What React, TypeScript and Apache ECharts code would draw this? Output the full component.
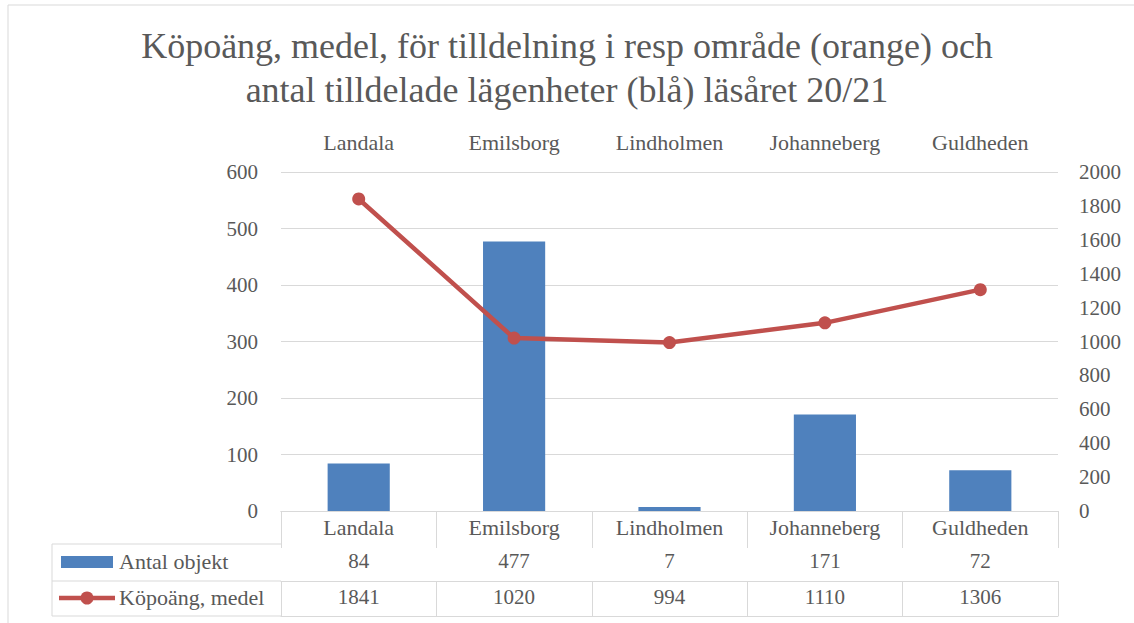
import React, { useEffect, useRef } from "react";
import * as echarts from "echarts";

const titleText = "Köpoäng, medel, för tilldelning i resp område (orange) och\nantal tilldelade lägenheter (blå) läsåret 20/21";
const categories = ["Landala", "Emilsborg", "Lindholmen", "Johanneberg", "Guldheden"];
const antalObjekt = [84, 477, 7, 171, 72];
const kopoangMedel = [1841, 1020, 994, 1110, 1306];
const seriesNames = ["Antal objekt", "Köpoäng, medel"];

const FONT = "'Liberation Serif', 'Times New Roman', serif";
const TEXT = "#595959";
const LINE = "#d9d9d9";
const BLUE = "#4F81BD";
const RED = "#C0504D";

export default function App() {
  const ref = useRef<HTMLDivElement>(null);
  useEffect(() => {
    const chart = echarts.init(ref.current!, null, { renderer: "svg" });
    const GL = 281, GR = 1058, GT = 172, GB = 511;
    const R1 = 33, R2 = 70, R3 = 105;
    const LEG_L = 52;
    const fs = 21;
    const fsText = 22;

    const rowAxis = (offset: number, tickLen: number, labels: (string | number)[] | null, margin: number, size: number) => ({
      type: "category",
      data: categories,
      position: "bottom",
      offset,
      gridIndex: 0,
      axisLine: { show: true, lineStyle: { color: LINE, width: 1 } },
      axisTick: { show: tickLen > 0, length: tickLen, interval: 0, lineStyle: { color: LINE, width: 1 } },
      axisLabel: labels
        ? {
            show: true,
            interval: 0,
            margin,
            fontFamily: FONT,
            fontSize: size,
            color: TEXT,
            formatter: (_v: string, i: number) => String(labels[i]),
          }
        : { show: false },
      splitLine: { show: false },
    });

    const option: any = {
      animation: false,
      backgroundColor: "#ffffff",
      title: {
        text: titleText,
        left: "center",
        top: 19,
        textStyle: { fontFamily: FONT, fontSize: 36, fontWeight: "normal", color: TEXT, lineHeight: 44 },
      },
      grid: { left: GL, right: 1134 - GR, top: GT, bottom: 623 - GB, containLabel: false },
      xAxis: [
        rowAxis(0, R1, categories, 5, fsText),
        rowAxis(R1, R2 - R1, antalObjekt, 6, fs),
        rowAxis(R2, R3 - R2, kopoangMedel, 5, fs),
        rowAxis(R3, 0, null, 0, fs),
        {
          type: "category",
          data: categories,
          position: "top",
          axisLine: { show: false },
          axisTick: { show: false },
          axisLabel: { interval: 0, margin: 19, fontFamily: FONT, fontSize: fsText, color: TEXT },
        },
      ],
      yAxis: [
        {
          type: "value",
          min: 0,
          max: 600,
          interval: 100,
          position: "left",
          axisLine: { show: false },
          axisTick: { show: false },
          splitLine: { show: true, lineStyle: { color: LINE, width: 1 } },
          axisLabel: { margin: 23, fontFamily: FONT, fontSize: fs, color: TEXT, formatter: (v: number) => String(v) },
        },
        {
          type: "value",
          min: 0,
          max: 2000,
          interval: 200,
          position: "right",
          axisLine: { show: false },
          axisTick: { show: false },
          splitLine: { show: false },
          axisLabel: { margin: 21, fontFamily: FONT, fontSize: fs, color: TEXT, formatter: (v: number) => String(v) },
        },
      ],
      series: [
        {
          name: seriesNames[0],
          type: "bar",
          data: antalObjekt,
          xAxisIndex: 0,
          yAxisIndex: 0,
          barWidth: "40%",
          itemStyle: { color: BLUE },
        },
        {
          name: seriesNames[1],
          type: "line",
          data: kopoangMedel,
          xAxisIndex: 0,
          yAxisIndex: 1,
          symbol: "circle",
          symbolSize: 13,
          lineStyle: { color: RED, width: 4.5 },
          itemStyle: { color: RED },
        },
      ],
      graphic: [
        { type: "rect", shape: { x: 8, y: 5, width: 1200, height: 700 }, style: { fill: "none", stroke: LINE, lineWidth: 1 } },
        { type: "line", shape: { x1: LEG_L, y1: GB + R1, x2: GL, y2: GB + R1 }, style: { stroke: LINE, lineWidth: 1 } },
        { type: "line", shape: { x1: LEG_L, y1: GB + R2, x2: GL, y2: GB + R2 }, style: { stroke: LINE, lineWidth: 1 } },
        { type: "line", shape: { x1: LEG_L, y1: GB + R3, x2: GL, y2: GB + R3 }, style: { stroke: LINE, lineWidth: 1 } },
        { type: "line", shape: { x1: LEG_L, y1: GB + R1, x2: LEG_L, y2: GB + R3 }, style: { stroke: LINE, lineWidth: 1 } },
        { type: "rect", shape: { x: 61, y: 556, width: 52, height: 12 }, style: { fill: BLUE } },
        { type: "line", shape: { x1: 59, y1: 598, x2: 115, y2: 598 }, style: { stroke: RED, lineWidth: 4.5 } },
        { type: "circle", shape: { cx: 87, cy: 598, r: 6.5 }, style: { fill: RED } },
        {
          type: "text",
          x: 119,
          y: (GB + R1 + GB + R2) / 2 - 1,
          style: { text: seriesNames[0], fontFamily: FONT, fontSize: fsText, fill: TEXT, verticalAlign: "middle", align: "left" },
        },
        {
          type: "text",
          x: 119,
          y: (GB + R2 + GB + R3) / 2 - 1,
          style: { text: seriesNames[1], fontFamily: FONT, fontSize: fsText, fill: TEXT, verticalAlign: "middle", align: "left" },
        },
      ],
    };
    chart.setOption(option);
    return () => chart.dispose();
  }, []);
  return (
    <div
      ref={ref}
      style={{ position: "absolute", left: 0, top: 0, width: 1134, height: 623, background: "#fff" }}
    />
  );
}
